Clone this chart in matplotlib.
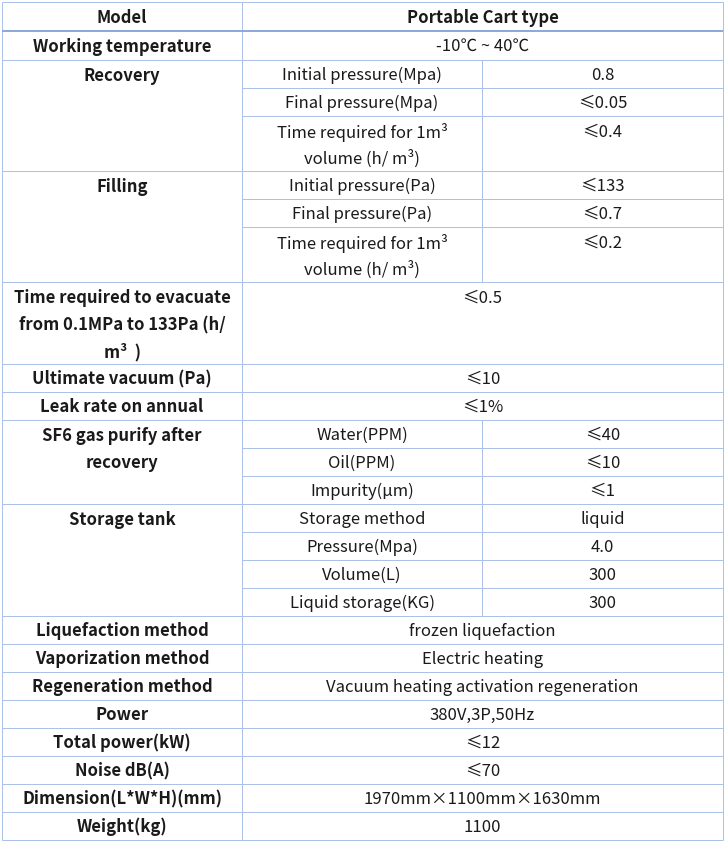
import matplotlib
matplotlib.use("Agg")
import matplotlib.pyplot as plt

plt.rcParams['font.family'] = ['Noto Sans CJK SC', 'DejaVu Sans']

# table content
header = ["Model", "Portable Cart type"]

group_names = [
    "Working temperature",
    "Recovery",
    "Filling",
    "Time required to evacuate\nfrom 0.1MPa to 133Pa (h/\nm³  )",
    "Ultimate vacuum (Pa)",
    "Leak rate on annual",
    "SF6 gas purify after\nrecovery",
    "Storage tank",
    "Liquefaction method",
    "Vaporization method",
    "Regeneration method",
    "Power",
    "Total power(kW)",
    "Noise dB(A)",
    "Dimension(L*W*H)(mm)",
    "Weight(kg)",
]

# sub item names per group (None -> value spans both columns)
group_items = [
    [None],
    ["Initial pressure(Mpa)", "Final pressure(Mpa)", "Time required for 1m³\nvolume (h/ m³)"],
    ["Initial pressure(Pa)", "Final pressure(Pa)", "Time required for 1m³\nvolume (h/ m³)"],
    [None],
    [None],
    [None],
    ["Water(PPM)", "Oil(PPM)", "Impurity(μm)"],
    ["Storage method", "Pressure(Mpa)", "Volume(L)", "Liquid storage(KG)"],
    [None], [None], [None], [None], [None], [None], [None], [None],
]

group_values = [
    ["-10℃ ~ 40℃"],
    ["0.8", "≤0.05", "≤0.4"],
    ["≤133", "≤0.7", "≤0.2"],
    ["≤0.5"],
    ["≤10"],
    ["≤1%"],
    ["≤40", "≤10", "≤1"],
    ["liquid", "4.0", "300", "300"],
    ["frozen liquefaction"],
    ["Electric heating"],
    ["Vacuum heating activation regeneration"],
    ["380V,3P,50Hz"],
    ["≤12"],
    ["≤70"],
    ["1970mm×1100mm×1630mm"],
    ["1100"],
]

# layout in pixels
W, H = 726, 842
X0, X1, X2, X3 = 2, 242, 482, 723
TOP = 2
HEADER_H = 29
ROW_H = 28
LINE_GAP = 27
FIRST_LINE = 15
LINE_COLOR = "#abc1e8"
HEAD_LINE_COLOR = "#8eaadb"
TEXT_COLOR = "#1a1a1a"
FS = 12
DY = 1.2  # nudge text down, CJK font sits high

fig = plt.figure(figsize=(W / 100, H / 100), dpi=100)
ax = fig.add_axes([0, 0, 1, 1])
ax.set_xlim(0, W)
ax.set_ylim(H, 0)
ax.axis("off")

px = 0.72  # one pixel in points


def hline(y, xa, xb, color=LINE_COLOR, lw=1):
    ax.plot([xa, xb], [y, y], color=color, lw=lw * px, solid_capstyle="butt")


def vline(x, ya, yb):
    ax.plot([x, x], [ya, yb], color=LINE_COLOR, lw=px, solid_capstyle="butt")


def put_text(x, y, s, bold=False):
    for k, line in enumerate(s.split("\n")):
        ax.text(x, y + DY + k * LINE_GAP, line, ha="center", va="center",
                fontsize=FS, color=TEXT_COLOR,
                fontweight="bold" if bold else "normal")


# header
y = TOP
put_text((X0 + X1) / 2, y + HEADER_H / 2, header[0], bold=True)
put_text((X1 + X3) / 2, y + HEADER_H / 2, header[1], bold=True)
vline(X1, y, y + HEADER_H)
hline(y, X0, X3)
y += HEADER_H

first = True
for name, items, vals in zip(group_names, group_items, group_values):
    g_top = y
    for j, (item, val) in enumerate(zip(items, vals)):
        nlines = max(len((item or "").split("\n")), len(val.split("\n")))
        if len(items) == 1:
            nlines = max(nlines, len(name.split("\n")))
        h = ROW_H + LINE_GAP * (nlines - 1)
        if first:
            h += 1
        if nlines == 1:
            ty = y + h / 2
        else:
            ty = y + FIRST_LINE
        if item is None:
            put_text((X1 + X3) / 2, ty, val)
        else:
            put_text((X1 + X2) / 2, ty, item)
            put_text((X2 + X3) / 2, ty, val)
            vline(X2, y, y + h)
            if j > 0:
                hline(y, X1, X3)
        y += h
        first = False
    g_h = y - g_top
    if name.count("\n") == 0 and len(items) == 1:
        put_text((X0 + X1) / 2, g_top + g_h / 2, name, bold=True)
    else:
        put_text((X0 + X1) / 2, g_top + FIRST_LINE, name, bold=True)
    vline(X1, g_top, y)
    hline(y, X0, X3)

vline(X0, TOP, y)
vline(X3, TOP, y)
hline(TOP + HEADER_H, X0, X3, color=HEAD_LINE_COLOR, lw=2)

fig.savefig("out.png", dpi=100)
